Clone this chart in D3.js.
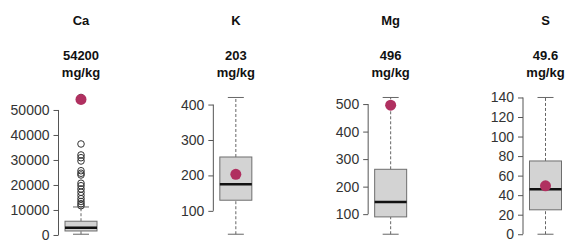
<!DOCTYPE html>
<html>
<head>
<meta charset="utf-8">
<script src="https://cdn.jsdelivr.net/npm/d3@7.9.0/dist/d3.min.js"></script>
<style>
  body { margin: 0; background: #fff; }
  svg { display: block; font-family: "Liberation Sans", Arial, sans-serif; }
</style>
</head>
<body>
<svg id="chart" width="569" height="241"></svg>
<script>
// one panel per element
const elements = ['Ca', 'K', 'Mg', 'S'];
const sampleValues = [54200, 203, 496, 49.6];
const sampleLabels = ['54200', '203', '496', '49.6'];
const unitLabel = 'mg/kg';

// boxplot stats
const whiskerLow = [300, 34, 27, 0];
const q1 = [1600, 130, 90, 25];
const medians = [2900, 175, 144, 46];
const q3 = [5500, 252, 263, 75];
const whiskerHigh = [11200, 420, 524, 140];
const outliers = [
  [11700, 12500, 13400, 14500, 15800, 17100, 18400, 19700, 20700,
   24000, 24700, 25700, 29600, 30900, 32000, 36400, 55000],
  [], [], []
];

const tickValues = [
  [0, 10000, 20000, 30000, 40000, 50000],
  [100, 200, 300, 400],
  [100, 200, 300, 400, 500],
  [0, 20, 40, 60, 80, 100, 120, 140]
];

const svg = d3.select('#chart');
const plotTop = 92, plotBottom = 239.7;
const boxWidth = 32;
const maroon = '#b03060';

let xCenter = d3.scalePoint().domain(elements).range([81, 545.5]);

elements.forEach((el, i) => {
  let cx = xCenter(el);
  let all = [whiskerLow[i], whiskerHigh[i], sampleValues[i], ...outliers[i]];
  let [lo, hi] = d3.extent(all);
  let pad = (hi - lo) * 0.04;
  let y = d3.scaleLinear().domain([lo - pad, hi + pad]).range([plotBottom, plotTop]);

  let g = svg.append('g');

  // titles
  [[el, 24.5], [sampleLabels[i], 60], [unitLabel, 77]].forEach(([txt, ty]) => {
    g.append('text').attr('x', cx).attr('y', ty)
      .attr('text-anchor', 'middle').attr('font-size', 13).attr('font-weight', 'bold')
      .attr('fill', '#111').text(txt);
  });

  // y axis, R style: line only spans the ticks
  let axisX = cx - 22.5;
  let ticks = tickValues[i];
  let axis = g.append('g').attr('transform', `translate(${axisX},0)`)
    .call(d3.axisLeft(y).tickValues(ticks).tickFormat(d3.format('d'))
      .tickSize(5).tickPadding(4).tickSizeOuter(0));
  axis.select('.domain').remove();
  axis.append('line')
    .attr('y1', y(ticks[0])).attr('y2', y(ticks[ticks.length - 1]))
    .attr('stroke', '#555');
  axis.selectAll('.tick line').attr('stroke', '#555');
  axis.selectAll('.tick text')
    .attr('font-size', 14).attr('fill', '#333')
    .attr('font-family', '"Liberation Sans", Arial, sans-serif');

  // whiskers
  [[whiskerLow[i], q1[i]], [q3[i], whiskerHigh[i]]].forEach(([a, b]) => {
    g.append('line').attr('x1', cx).attr('x2', cx)
      .attr('y1', y(a)).attr('y2', y(b))
      .attr('stroke', '#666').attr('stroke-dasharray', '3,2');
  });
  [whiskerLow[i], whiskerHigh[i]].forEach(v => {
    g.append('line').attr('x1', cx - boxWidth / 4).attr('x2', cx + boxWidth / 4)
      .attr('y1', y(v)).attr('y2', y(v))
      .attr('stroke', '#666');
  });

  // box and median
  g.append('rect')
    .attr('x', cx - boxWidth / 2).attr('width', boxWidth)
    .attr('y', y(q3[i])).attr('height', y(q1[i]) - y(q3[i]))
    .attr('fill', '#d3d3d3').attr('stroke', '#6e6e6e');
  g.append('line')
    .attr('x1', cx - boxWidth / 2).attr('x2', cx + boxWidth / 2)
    .attr('y1', y(medians[i])).attr('y2', y(medians[i]))
    .attr('stroke', '#111').attr('stroke-width', 2.5);

  // outliers
  g.selectAll('circle.out').data(outliers[i]).join('circle')
    .attr('class', 'out')
    .attr('cx', cx).attr('cy', d => y(d)).attr('r', 3.3)
    .attr('fill', 'none').attr('stroke', '#333');

  // sample value
  g.append('circle')
    .attr('cx', cx).attr('cy', y(sampleValues[i])).attr('r', 5.5)
    .attr('fill', maroon);
});
</script>
</body>
</html>
